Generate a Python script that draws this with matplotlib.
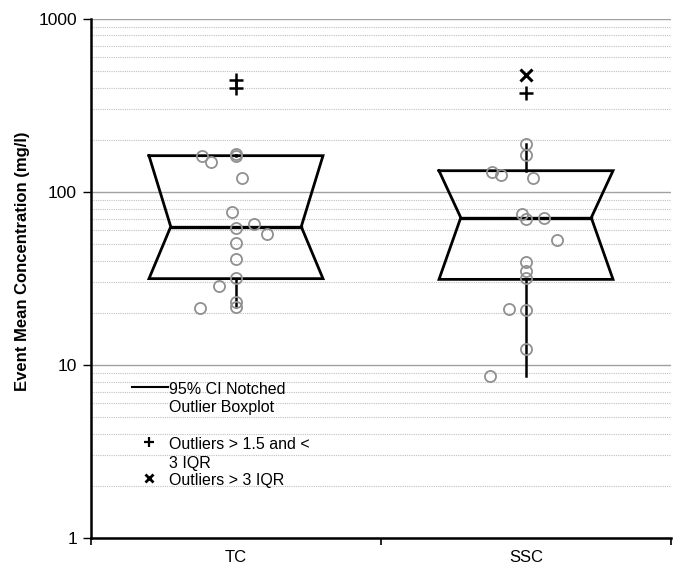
import matplotlib
matplotlib.use("Agg")
import matplotlib.pyplot as plt
import numpy as np
from matplotlib.ticker import LogLocator, NullFormatter, FixedLocator

plt.rcParams['font.family'] = ['Liberation Sans', 'DejaVu Sans']

categories = ["TC", "SSC"]
q1 = [31.5, 31.2]
median = [62.9, 70.9]
q3 = [161.7, 132.4]
whisker_lo = [21.7, 8.6]
whisker_hi = [164.0, 188.0]
outliers_mild = [[443.0, 396.0], [371.0]]
outliers_extreme = [[], [473.0]]

tc_points = [161, 149, 162, 165, 120, 76, 62, 64.9, 56.8, 50.4, 40.9, 31.6, 28.6, 23.0, 21.7, 21.2]
tc_jitter = [-0.116, -0.087, 0.0, 0.0, 0.022, -0.015, 0.0, 0.062, 0.106, 0.0, 0.0, 0.0, -0.058, 0.0, 0.0, -0.124]
ssc_points = [188, 162.5, 130, 125.6, 119.6, 74.4, 69.9, 70.8, 52.5, 39.5, 35.0, 31.6, 21.1, 20.7, 12.4, 8.63]
ssc_jitter = [0.0, 0.0, -0.116, -0.086, 0.023, -0.015, 0.0, 0.062, 0.107, 0.0, 0.0, 0.0, -0.058, 0.0, 0.0, -0.124]
points = [tc_points, ssc_points]
jitters = [tc_jitter, ssc_jitter]

fig = plt.figure(figsize=(6.8, 5.69), dpi=100)
ax = fig.add_axes([0.1338, 0.0545, 0.8530, 0.9126])
ax.set_yscale('log')
ax.set_ylim(1, 1000)
ax.set_xlim(0, 2)

ax.yaxis.set_major_locator(FixedLocator([1, 10, 100, 1000]))
ax.yaxis.set_major_formatter(matplotlib.ticker.FuncFormatter(lambda v, p: f"{int(v)}"))
ax.yaxis.set_minor_locator(LogLocator(base=10, subs=np.arange(2, 10)))
ax.yaxis.set_minor_formatter(NullFormatter())
ax.grid(True, which='major', axis='y', color='#a0a0a0', lw=1.0, ls='-', zorder=0)
ax.grid(True, which='minor', axis='y', color='#c0c0c0', lw=0.8, ls=(0, (1, 1)), zorder=0)

ax.set_xticks([0, 1, 2])
ax.set_xticklabels([])
ax.set_xticks([0.5, 1.5], minor=True)
ax.set_xticklabels(categories, minor=True, fontsize=12)
ax.tick_params(axis='x', which='minor', length=0, pad=9)
ax.tick_params(axis='x', which='major', length=5, width=1.2, direction='out')
ax.tick_params(axis='y', which='major', length=6, width=1.0, direction='out', labelsize=12.5, pad=4)
ax.tick_params(axis='y', which='minor', length=0)

for s in ['top', 'right']:
    ax.spines[s].set_visible(False)
for s in ['left', 'bottom']:
    ax.spines[s].set_linewidth(1.8)

ax.set_ylabel("Event Mean Concentration (mg/l)", fontsize=12, fontweight='bold')
ax.yaxis.set_label_coords(-0.105, 0.533)

w = 0.30
nw = 0.225
for i, c in enumerate([0.5, 1.5]):
    xs = [c - w, c + w, c + nw, c + w, c - w, c - nw, c - w]
    ys = [q3[i], q3[i], median[i], q1[i], q1[i], median[i], q3[i]]
    ax.plot(xs, ys, color='black', lw=2.0, zorder=3, solid_joinstyle='miter')
    ax.plot([c - nw, c + nw], [median[i], median[i]], color='black', lw=2.4, zorder=3)
    ax.plot([c, c], [q1[i], whisker_lo[i]], color='black', lw=1.8, zorder=3)
    ax.plot([c, c], [q3[i], whisker_hi[i]], color='black', lw=1.8, zorder=3)
    if outliers_mild[i]:
        ax.plot([c] * len(outliers_mild[i]), outliers_mild[i], ls='none', marker='+',
                ms=10.5, mew=1.8, color='black', zorder=4)
    if outliers_extreme[i]:
        ax.plot([c] * len(outliers_extreme[i]), outliers_extreme[i], ls='none', marker='x',
                ms=9, mew=2.2, color='black', zorder=4)
    px = [c + j for j in jitters[i]]
    ax.plot(px, points[i], ls='none', marker='o', ms=8, mfc='none', mec='#909090',
            mew=1.3, zorder=5)

# legend drawn in axes coordinates
T = ax.transAxes
ax.plot([0.0707, 0.1328], [0.2908, 0.2908], color='black', lw=1.5, transform=T, zorder=6)
fs = 11.5
d = 0.004
ax.text(0.1345, 0.2908 - d, "95% CI Notched", transform=T, fontsize=fs, va='center', ha='left')
ax.text(0.1345, 0.2561 - d, "Outlier Boxplot", transform=T, fontsize=fs, va='center', ha='left')
ax.plot([0.1], [0.1848], marker='+', ms=7, mew=1.6, color='black', transform=T, ls='none')
ax.text(0.1345, 0.1848 - d, "Outliers > 1.5 and <", transform=T, fontsize=fs, va='center', ha='left')
ax.text(0.1345, 0.1482 - d, "3 IQR", transform=T, fontsize=fs, va='center', ha='left')
ax.plot([0.1], [0.1155], marker='x', ms=6, mew=2.0, color='black', transform=T, ls='none')
ax.text(0.1345, 0.1155 - d, "Outliers > 3 IQR", transform=T, fontsize=fs, va='center', ha='left')

fig.savefig("out.png", dpi=100)
